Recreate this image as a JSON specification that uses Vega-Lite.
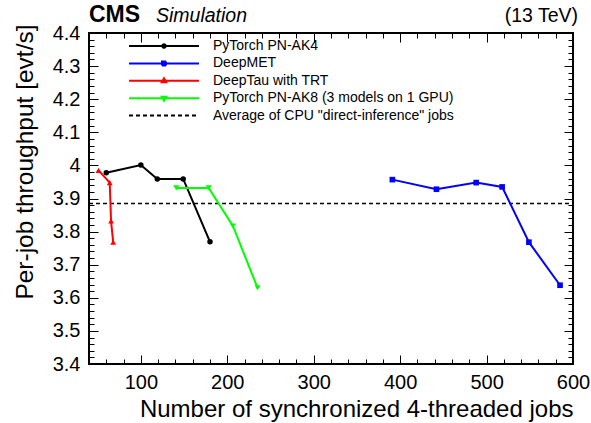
{
  "$schema": "https://vega.github.io/schema/vega-lite/v6.json",
  "width": 484,
  "height": 331,
  "autosize": {"type": "none"},
  "padding": {"left": 89, "top": 33, "right": 18, "bottom": 59},
  "background": "white",
  "config": {
    "font": "Liberation Sans",
    "view": {"stroke": "black", "strokeWidth": 2},
    "axis": {"grid": false, "domain": false, "labelColor": "black", "titleColor": "black", "tickColor": "black", "tickWidth": 1, "labelFont": "Liberation Sans", "titleFont": "Liberation Sans", "labelOverlap": false, "labelFlush": false}
  },
  "datasets": {
    "series": [
      {"series": "PyTorch PN-AK4", "jobs": 60, "rate": 3.978},
      {"series": "PyTorch PN-AK4", "jobs": 100, "rate": 4.001},
      {"series": "PyTorch PN-AK4", "jobs": 119, "rate": 3.959},
      {"series": "PyTorch PN-AK4", "jobs": 149, "rate": 3.959},
      {"series": "PyTorch PN-AK4", "jobs": 180, "rate": 3.769},
      {"series": "DeepMET", "jobs": 391, "rate": 3.957},
      {"series": "DeepMET", "jobs": 442, "rate": 3.928},
      {"series": "DeepMET", "jobs": 488, "rate": 3.948},
      {"series": "DeepMET", "jobs": 518, "rate": 3.935},
      {"series": "DeepMET", "jobs": 549, "rate": 3.768},
      {"series": "DeepMET", "jobs": 585, "rate": 3.638},
      {"series": "DeepTau with TRT", "jobs": 51, "rate": 3.985},
      {"series": "DeepTau with TRT", "jobs": 64, "rate": 3.948},
      {"series": "DeepTau with TRT", "jobs": 65.5, "rate": 3.832},
      {"series": "DeepTau with TRT", "jobs": 68, "rate": 3.768},
      {"series": "PyTorch PN-AK8 (3 models on 1 GPU)", "jobs": 141, "rate": 3.932},
      {"series": "PyTorch PN-AK8 (3 models on 1 GPU)", "jobs": 178.5, "rate": 3.932},
      {"series": "PyTorch PN-AK8 (3 models on 1 GPU)", "jobs": 206.5, "rate": 3.817},
      {"series": "PyTorch PN-AK8 (3 models on 1 GPU)", "jobs": 235, "rate": 3.63}
    ],
    "avg": [
      {"series": "Average of CPU \"direct-inference\" jobs", "rate": 3.885}
    ]
  },
  "resolve": {"axis": {"x": "independent", "y": "independent"}},
  "layer": [
    {
      "data": {"name": "avg"},
      "mark": {"type": "rule", "strokeDash": [4, 3], "strokeWidth": 1.5, "color": "black"},
      "encoding": {
        "x": {"datum": 40, "type": "quantitative", "scale": {"domain": [40, 600], "nice": false, "zero": false},
          "axis": {"orient": "bottom", "title": "Number of synchronized 4-threaded jobs", "titleAnchor": "end", "titleFontSize": 24, "titleFontWeight": "normal", "titlePadding": 5,
            "values": [100, 200, 300, 400, 500, 600], "labelFontSize": 20, "labelPadding": 17, "tickSize": -9}},
        "x2": {"datum": 600},
        "y": {"field": "rate", "type": "quantitative", "scale": {"domain": [3.4, 4.4], "nice": false, "zero": false},
          "axis": {"orient": "left", "title": "Per-job throughput [evt/s]", "titleAnchor": "end", "titleAlign": "right", "titleY": -9, "titleFontSize": 24.5, "titleFontWeight": "normal", "titlePadding": 15,
            "values": [3.4, 3.5, 3.6, 3.7, 3.8, 3.9, 4, 4.1, 4.2, 4.3, 4.4],
            "labelExpr": "format(datum.value, '~g')", "labelFontSize": 20, "labelPadding": 18, "tickSize": -9}}
      }
    },
    {
      "data": {"name": "series"},
      "mark": {"type": "line", "strokeWidth": 2},
      "encoding": {
        "x": {"field": "jobs", "type": "quantitative", "scale": {"domain": [40, 600], "nice": false, "zero": false},
          "axis": {"orient": "top", "title": null, "labels": false, "tickSize": -9, "values": [100, 200, 300, 400, 500, 600]}},
        "y": {"field": "rate", "type": "quantitative", "scale": {"domain": [3.4, 4.4], "nice": false, "zero": false},
          "axis": {"orient": "right", "title": null, "labels": false, "tickSize": -9, "values": [3.4, 3.5, 3.6, 3.7, 3.8, 3.9, 4, 4.1, 4.2, 4.3, 4.4]}},
        "color": {"field": "series", "type": "nominal",
          "scale": {"domain": ["PyTorch PN-AK4", "DeepMET", "DeepTau with TRT", "PyTorch PN-AK8 (3 models on 1 GPU)", "Average of CPU \"direct-inference\" jobs"], "range": ["#000000", "#0000ff", "#ff0000", "#00ff00", "#000000"]},
          "legend": {"title": null, "orient": "none", "legendX": 68, "legendY": 6, "padding": 0, "rowPadding": 3.4,
            "symbolSize": 100, "symbolStrokeWidth": 2, "labelOffset": 42, "labelFontSize": 14, "labelFont": "Liberation Sans", "labelColor": "black", "labelLimit": 400,
            "symbolType": {"expr": "datum.value === 'DeepMET' ? 'M-7,0H7M-0.4,-0.4H0.4V0.4H-0.4Z' : datum.value === 'DeepTau with TRT' ? 'M-7,0H7M0,-0.5L0.45,0.3H-0.45Z' : datum.value === 'PyTorch PN-AK8 (3 models on 1 GPU)' ? 'M-7,0H7M0,0.5L0.45,-0.3H-0.45Z' : datum.value === 'PyTorch PN-AK4' ? 'M-7,0H7M0.35,0A0.35,0.35,0,1,1,-0.35,0A0.35,0.35,0,1,1,0.35,0Z' : 'M-7,0H7'"},
            "symbolFillColor": {"expr": "scale('color', datum.value)"},
            "symbolDash": {"expr": "indexof(datum.value, 'Average') >= 0 ? [4, 3] : [1, 0]"}}}
      }
    },
    {
      "data": {"name": "series"},
      "mark": {"type": "point", "filled": true, "opacity": 1},
      "encoding": {
        "x": {"field": "jobs", "type": "quantitative", "scale": {"domain": [40, 600], "nice": false, "zero": false},
          "axis": {"orient": "bottom", "title": null, "labels": false, "tickSize": -5,
            "values": [40,60,80,100,120,140,160,180,200,220,240,260,280,300,320,340,360,380,400,420,440,460,480,500,520,540,560,580,600]}},
        "y": {"field": "rate", "type": "quantitative", "scale": {"domain": [3.4, 4.4], "nice": false, "zero": false},
          "axis": {"orient": "left", "title": null, "labels": false, "tickSize": -5,
            "values": [3.4,3.42,3.44,3.46,3.48,3.5,3.52,3.54,3.56,3.58,3.6,3.62,3.64,3.66,3.68,3.7,3.72,3.74,3.76,3.78,3.8,3.82,3.84,3.86,3.88,3.9,3.92,3.94,3.96,3.98,4,4.02,4.04,4.06,4.08,4.1,4.12,4.14,4.16,4.18,4.2,4.22,4.24,4.26,4.28,4.3,4.32,4.34,4.36,4.38,4.4]}},
        "color": {"field": "series", "type": "nominal",
          "scale": {"domain": ["PyTorch PN-AK4", "DeepMET", "DeepTau with TRT", "PyTorch PN-AK8 (3 models on 1 GPU)", "Average of CPU \"direct-inference\" jobs"], "range": ["#000000", "#0000ff", "#ff0000", "#00ff00", "#000000"]}},
        "shape": {"field": "series", "type": "nominal", "legend": null,
          "scale": {"domain": ["PyTorch PN-AK4", "DeepMET", "DeepTau with TRT", "PyTorch PN-AK8 (3 models on 1 GPU)"], "range": ["circle", "square", "triangle-up", "triangle-down"]}},
        "size": {"field": "series", "type": "nominal", "legend": null,
          "scale": {"domain": ["PyTorch PN-AK4", "DeepMET", "DeepTau with TRT", "PyTorch PN-AK8 (3 models on 1 GPU)"], "range": [30, 36, 22, 26]}}
      }
    },
    {
      "data": {"values": [{"t": "CMS"}]},
      "mark": {"type": "text", "align": "left", "baseline": "alphabetic", "fontSize": 23, "fontWeight": "bold", "font": "Liberation Sans", "dy": -11, "color": "black"},
      "encoding": {
        "x": {"datum": 40, "type": "quantitative", "scale": {"domain": [40, 600], "nice": false, "zero": false},
          "axis": {"orient": "top", "title": null, "labels": false, "tickSize": -5,
            "values": [40,60,80,100,120,140,160,180,200,220,240,260,280,300,320,340,360,380,400,420,440,460,480,500,520,540,560,580,600]}},
        "y": {"datum": 4.4, "type": "quantitative", "scale": {"domain": [3.4, 4.4], "nice": false, "zero": false},
          "axis": {"orient": "right", "title": null, "labels": false, "tickSize": -5,
            "values": [3.4,3.42,3.44,3.46,3.48,3.5,3.52,3.54,3.56,3.58,3.6,3.62,3.64,3.66,3.68,3.7,3.72,3.74,3.76,3.78,3.8,3.82,3.84,3.86,3.88,3.9,3.92,3.94,3.96,3.98,4,4.02,4.04,4.06,4.08,4.1,4.12,4.14,4.16,4.18,4.2,4.22,4.24,4.26,4.28,4.3,4.32,4.34,4.36,4.38,4.4]}},
        "text": {"field": "t"}
      }
    },
    {
      "data": {"values": [{"t": "Simulation"}]},
      "mark": {"type": "text", "align": "left", "baseline": "alphabetic", "fontSize": 19.5, "fontStyle": "italic", "font": "Liberation Sans", "dx": 67, "dy": -11, "color": "black"},
      "encoding": {
        "x": {"datum": 40, "type": "quantitative", "axis": null},
        "y": {"datum": 4.4, "type": "quantitative", "axis": null},
        "text": {"field": "t"}
      }
    },
    {
      "data": {"values": [{"t": "(13 TeV)"}]},
      "mark": {"type": "text", "align": "right", "baseline": "alphabetic", "fontSize": 19.5, "font": "Liberation Sans", "dx": 5, "dy": -11, "color": "black"},
      "encoding": {
        "x": {"datum": 600, "type": "quantitative", "axis": null},
        "y": {"datum": 4.4, "type": "quantitative", "axis": null},
        "text": {"field": "t"}
      }
    }
  ]
}
